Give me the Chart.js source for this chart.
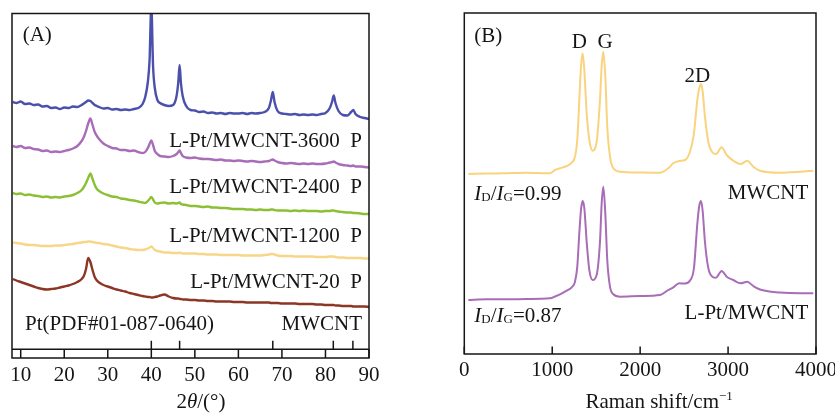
<!DOCTYPE html>
<html>
<head>
<meta charset="utf-8">
<script src="https://cdn.jsdelivr.net/npm/chart.js@4.4.1/dist/chart.umd.min.js"></script>
<style>
  html, body { margin: 0; padding: 0; background: #fff; overflow: hidden; width: 835px; height: 413px; }
  canvas { position: absolute; top: 0; }
  #xrd { left: 0; }
  #raman { left: 417px; }
</style>
</head>
<body>
<canvas id="xrd" width="417" height="413"></canvas>
<canvas id="raman" width="430" height="413"></canvas>
<script>
// (A) XRD patterns, stacked with offsets (a.u.)
const xrdTheta = [
  8.2, 9, 10, 11, 12, 13, 14, 15, 16, 17,
  18, 19, 20, 21, 22, 23, 24, 24.5, 25, 25.5,
  26, 26.5, 27, 27.5, 28, 29, 30, 31, 32, 33,
  34, 35, 36, 37, 38, 38.6, 39.2, 39.6, 40, 40.4,
  40.8, 41.4, 42, 43, 44, 45, 45.8, 46.2, 46.5, 46.8,
  47.2, 48, 49, 50, 51, 52, 53, 54, 55, 56,
  57, 58, 59, 60, 61, 62, 63, 64, 65, 66,
  67, 67.5, 67.9, 68.3, 69, 70, 71, 72, 73, 74,
  75, 76, 77, 78, 79, 80, 81, 81.5, 81.9, 82.3,
  83, 84, 85, 85.9, 86.4, 86.9, 88, 89, 90
];
const xrd3600P = [
  256, 255, 256.5, 254, 254.5, 253, 253.5, 251.5, 252, 250,
  250.5, 249, 250.5, 250, 251.5, 251, 253, 254.5, 256, 257.5,
  257, 255, 253, 252, 251, 249.5, 250, 248.5, 249, 248,
  248.5, 248, 249, 250, 254, 261, 276, 298, 352, 292,
  270, 258, 255, 253, 252, 253, 262, 276, 293, 275,
  262, 252, 248, 247.5, 246, 246.5, 245, 245.5, 244.5, 245,
  244, 245, 244.5, 244.5, 245, 244, 245, 244.5, 245, 246,
  250, 258, 266, 256, 247, 244.5, 244, 243.5, 244, 243,
  243.5, 243, 243.5, 243, 244, 245, 250, 256, 262.5, 255,
  247, 243, 242.5, 246, 248, 244, 241, 240, 239
];
const xrd2400P = [
  212, 211, 212, 210, 210.5, 209, 208.5, 207, 207.5, 206,
  206.5, 206, 207, 208, 209.5, 212, 217, 221, 227, 234.5,
  239.5, 233, 226, 222, 219, 214.5, 212, 210, 209.5, 208,
  208, 207, 207.5, 206, 205, 206, 210, 214, 217.5, 213,
  207, 204, 202, 201.5, 201, 202, 204, 206, 207.5, 205,
  202, 200.5, 200, 200.5, 199.5, 199, 199, 198.5, 198, 198.5,
  197.5, 197.5, 197, 197.5, 197, 196.5, 197, 196.5, 196, 196.5,
  197, 198, 198.5, 197.5, 196, 195, 194.5, 195, 194.5, 194,
  194.5, 194, 194.5, 194, 194, 194.5, 195.5, 196, 196.5, 195.5,
  194, 193, 192.5, 192, 192.5, 191.5, 191.5, 191, 190.5
];
const xrd1200P = [
  165, 164, 164.5, 163, 163.5, 162.5, 162, 161, 161.5, 160.5,
  161, 160.5, 161.5, 162, 163, 165, 168, 171, 175, 180,
  184.5, 179, 173, 169, 167, 164.5, 163, 161.5, 161, 159.5,
  159, 158, 157.5, 156.5, 155.5, 155, 157, 159, 161, 158.5,
  155.5, 154.5, 155, 155.5, 154.5, 155, 154.5, 155, 155.5, 154,
  153.5, 153, 152, 152, 151.5, 151, 151.5, 150.5, 150.5, 150,
  150, 149.5, 149, 149, 149, 148.5, 148.5, 148, 148.5, 148,
  148, 148.5, 148.5, 148, 147.5, 147.5, 147.5, 147, 147.5, 147,
  147.5, 147, 147, 147, 146.5, 147, 147, 147.5, 147.5, 147,
  146.5, 146, 145.5, 145.5, 145, 145, 144.5, 144, 144
];
const xrd20P = [
  115.5, 115, 114.5, 113.5, 113, 113, 112.5, 112, 112, 112,
  112.5, 112.5, 113, 113.5, 114, 115, 115.5, 116, 116, 116.5,
  116.5, 116, 115.5, 115, 115, 114, 113.5, 112.5, 111.5, 110.5,
  110, 109, 108.5, 108, 108, 108.5, 109.5, 110.5, 111.5, 110,
  108, 107, 106.5, 105.5, 105.5, 105, 105, 105, 105.5, 105,
  104.5, 104.5, 104.5, 104.5, 104, 104, 103.5, 103.5, 103.5, 103,
  103, 103, 103, 103, 102.5, 102.5, 102.5, 102.5, 102.5, 103,
  103.5, 104, 104, 103.5, 102.5, 102, 102, 102, 101.5, 101.5,
  101.5, 101.5, 101.5, 101, 101, 101, 101.5, 101.5, 101.5, 101,
  100.5, 100.5, 100, 100, 100, 100, 100, 99.5, 99.5
];
const xrdMwcnt = [
  79, 77.5, 76, 74.5, 73, 71.5, 70, 69, 68.5, 69,
  69.5, 70.5, 71.5, 72.5, 74, 76, 79, 82, 89, 100,
  96, 88, 81, 77.5, 75.5, 73, 71.5, 70, 68.5, 67.5,
  66.5, 65, 64, 63, 62, 61.5, 61, 61, 60.5, 60.5,
  61, 61.5, 62.5, 63.5, 61.5, 60, 59.5, 59.5, 59, 59,
  58.5, 58.5, 58, 58, 57.5, 57.5, 57, 57, 56.5, 56.5,
  56.5, 56.5, 56, 56, 56, 55.5, 55.5, 55.5, 55.5, 55.5,
  55.5, 55, 55, 55, 55, 54.5, 54.5, 54.5, 54.5, 54,
  54, 54, 54, 53.5, 53.5, 53, 53, 53, 53, 52.5,
  52.5, 52, 52, 52, 51.5, 51.5, 51.5, 51.5, 51
];
const xrdTicks = [10, 20, 30, 40, 50, 60, 70, 80, 90];
// Pt reference pattern (PDF#01-087-0640) stick positions
const ptRefTheta = [40.0, 46.5, 67.9, 81.8, 86.3];
const ptRefBase = 8.7;
const ptRefTop = 17.3;

// (B) Raman spectra (a.u., offset)
const ramanShift = [
  46, 250, 444, 709, 975, 1032, 1089, 1165, 1221, 1259,
  1285, 1308, 1327, 1346, 1365, 1392, 1422, 1460, 1505, 1543,
  1562, 1581, 1604, 1626, 1657, 1695, 1771, 2000, 2226, 2320,
  2377, 2445, 2510, 2567, 2612, 2650, 2672, 2692, 2711, 2737,
  2775, 2825, 2862, 2927, 2984, 3059, 3143, 3218, 3287, 3363,
  3590, 3818, 3969
];
const ramanMwcnt = [
  180, 180.5, 180.7, 181.3, 180.7, 184, 185.7, 188, 191.3, 197.3,
  214, 254, 287.3, 300.7, 284, 240.7, 214, 203.3, 212.3, 254,
  287.3, 302.3, 277.3, 227.3, 197.3, 185.7, 182.3, 181.5, 181.3, 185.7,
  190.7, 193, 194, 202.3, 220.7, 254, 265.7, 270, 262.3, 237.3,
  212.3, 201.3, 200, 206.7, 199, 193.3, 190, 193.3, 187.3, 183.3,
  181.3, 182.3, 183.3
];
const ramanLPt = [
  54, 54.7, 54.7, 55, 55.7, 57.5, 59.7, 63.3, 66.7, 72.3,
  87.3, 120.7, 144, 153, 146, 112, 84, 74, 79, 112,
  150, 167.3, 140, 94, 67.3, 59.7, 57.3, 58, 59, 64,
  66.7, 70.7, 70.5, 73.5, 86, 130, 148, 153, 143, 112,
  86, 77, 76.3, 83, 77.3, 74, 70.7, 72.3, 68, 64.5,
  61.5, 60.7, 60.7
];
const ramanTicks = [0, 1000, 2000, 3000, 4000];

const serif = '"Liberation Serif", "Times New Roman", serif';
const ink = '#151515';

function pts(xs, ys) {
  return xs.map((x, i) => ({ x: x, y: ys[i] }));
}

function drawRich(ctx, x, y, parts, align) {
  const fontOf = p => (p[2] ? 'italic ' : '') + p[1] + 'px ' + serif;
  let w = 0;
  parts.forEach(p => { ctx.font = fontOf(p); w += ctx.measureText(p[0]).width; });
  let cx = align === 'right' ? x - w : align === 'center' ? x - w / 2 : x;
  ctx.textAlign = 'left';
  ctx.textBaseline = 'alphabetic';
  parts.forEach(p => {
    ctx.font = fontOf(p);
    ctx.fillText(p[0], cx, y + (p[3] || 0));
    cx += ctx.measureText(p[0]).width;
  });
}

const frameAndText = {
  id: 'frameAndText',
  afterDraw(chart, args, opts) {
    const { ctx, chartArea: a, scales } = chart;
    const x = scales.x, y = scales.y;
    ctx.save();
    ctx.strokeStyle = ink;
    ctx.lineWidth = 1.5;
    ctx.strokeRect(a.left, a.top, a.right - a.left, a.bottom - a.top);
    ctx.beginPath();
    x.ticks.forEach(t => {
      const px = x.getPixelForValue(t.value);
      ctx.moveTo(px, a.bottom);
      ctx.lineTo(px, a.bottom - opts.tickLen);
    });
    if (opts.baseline != null) {
      const py = y.getPixelForValue(opts.baseline);
      ctx.moveTo(a.left, py);
      ctx.lineTo(a.right, py);
    }
    ctx.stroke();
    ctx.fillStyle = ink;
    opts.labels.forEach(l => drawRich(ctx, x.getPixelForValue(l.x), y.getPixelForValue(l.y), l.parts, l.align));
    drawRich(ctx, x.getPixelForValue(opts.title.x), a.bottom + opts.title.dy, opts.title.parts, 'center');
    ctx.restore();
  }
};

function xAxis(min, max, tickValues, height, pad) {
  return {
    type: 'linear', min: min, max: max,
    grid: { display: false, drawTicks: false },
    border: { display: false },
    afterBuildTicks: s => { s.ticks = tickValues.map(v => ({ value: v })); },
    afterFit: s => { s.height = height; },
    ticks: { color: ink, font: { family: serif, size: 21 }, padding: pad, maxRotation: 0, callback: v => String(v) }
  };
}

const lineStyle = { pointRadius: 0, borderWidth: 2, cubicInterpolationMode: 'monotone', fill: false };
const xrdStyle = { ...lineStyle, borderWidth: 2.4 };

// sticks for the Pt reference pattern
const ptSticks = [];
ptRefTheta.forEach(t => {
  ptSticks.push({ x: t, y: ptRefBase }, { x: t, y: ptRefTop }, { x: t, y: null });
});

new Chart(document.getElementById('xrd'), {
  type: 'line',
  data: {
    datasets: [
      { label: 'L-Pt/MWCNT-3600 P', data: pts(xrdTheta, xrd3600P), borderColor: '#4a50ab', ...xrdStyle },
      { label: 'L-Pt/MWCNT-2400 P', data: pts(xrdTheta, xrd2400P), borderColor: '#a86db8', ...xrdStyle },
      { label: 'L-Pt/MWCNT-1200 P', data: pts(xrdTheta, xrd1200P), borderColor: '#8cc034', ...xrdStyle },
      { label: 'L-Pt/MWCNT-20 P', data: pts(xrdTheta, xrd20P), borderColor: '#f7d688', ...xrdStyle },
      { label: 'MWCNT', data: pts(xrdTheta, xrdMwcnt), borderColor: '#8c3626', ...xrdStyle },
      { label: 'Pt', data: ptSticks, borderColor: ink, borderWidth: 1.5, pointRadius: 0, spanGaps: false, tension: 0 }
    ]
  },
  options: {
    responsive: false,
    animation: false,
    layout: { padding: { left: 12, right: 48, top: 13.5, bottom: 0 } },
    scales: {
      x: xAxis(8, 90, xrdTicks, 55, 5),
      y: { display: false, min: 0, max: 344.5 }
    },
    plugins: {
      legend: { display: false },
      tooltip: { enabled: false },
      frameAndText: {
        tickLen: 9,
        baseline: ptRefBase,
        labels: [
          { x: 10.46, y: 317.3, parts: [['(A)', 21]], align: 'left' },
          { x: 88.4, y: 211.3, parts: [['L-Pt/MWCNT-3600\u2002P', 21]], align: 'right' },
          { x: 88.4, y: 164.7, parts: [['L-Pt/MWCNT-2400\u2002P', 21]], align: 'right' },
          { x: 88.4, y: 116.3, parts: [['L-Pt/MWCNT-1200\u2002P', 21]], align: 'right' },
          { x: 88.4, y: 69.7, parts: [['L-Pt/MWCNT-20\u2002P', 21]], align: 'right' },
          { x: 88.4, y: 28, parts: [['MWCNT', 21]], align: 'right' },
          { x: 11.0, y: 28, parts: [['Pt(PDF#01-087-0640)', 21]], align: 'left' }
        ],
        title: { x: 51.4, dy: 50, parts: [['2', 21], ['θ', 21, true], ['/(°)', 21]] }
      }
    }
  },
  plugins: [frameAndText]
});

new Chart(document.getElementById('raman'), {
  type: 'line',
  data: {
    datasets: [
      { label: 'MWCNT', data: pts(ramanShift, ramanMwcnt), borderColor: '#f9d37e', ...lineStyle },
      { label: 'L-Pt/MWCNT', data: pts(ramanShift, ramanLPt), borderColor: '#a86db6', ...lineStyle }
    ]
  },
  options: {
    responsive: false,
    animation: false,
    layout: { padding: { left: 47.3, right: 31, top: 13, bottom: 0 } },
    scales: {
      x: xAxis(0, 4000, ramanTicks, 59, 4),
      y: { display: false, min: 0, max: 341 }
    },
    plugins: {
      legend: { display: false },
      tooltip: { enabled: false },
      frameAndText: {
        tickLen: 7.5,
        baseline: null,
        labels: [
          { x: 114, y: 312.3, parts: [['(B)', 21]], align: 'left' },
          { x: 1308, y: 305.7, parts: [['D', 21]], align: 'center' },
          { x: 1600, y: 305.7, parts: [['G', 21]], align: 'center' },
          { x: 2650, y: 272.3, parts: [['2D', 21]], align: 'center' },
          { x: 114, y: 154.5, parts: [['I', 21, true], ['D', 13, false, 1], ['/', 21], ['I', 21, true], ['G', 13, false, 1], ['=0.99', 21]], align: 'left' },
          { x: 3912, y: 154.7, parts: [['MWCNT', 21]], align: 'right' },
          { x: 114, y: 32.3, parts: [['I', 21, true], ['D', 13, false, 1], ['/', 21], ['I', 21, true], ['G', 13, false, 1], ['=0.87', 21]], align: 'left' },
          { x: 3912, y: 34.7, parts: [['L-Pt/MWCNT', 21]], align: 'right' }
        ],
        title: { x: 2216, dy: 54, parts: [['Raman shift/cm', 21], ['−1', 13, false, -8]] }
      }
    }
  },
  plugins: [frameAndText]
});
</script>
</body>
</html>
